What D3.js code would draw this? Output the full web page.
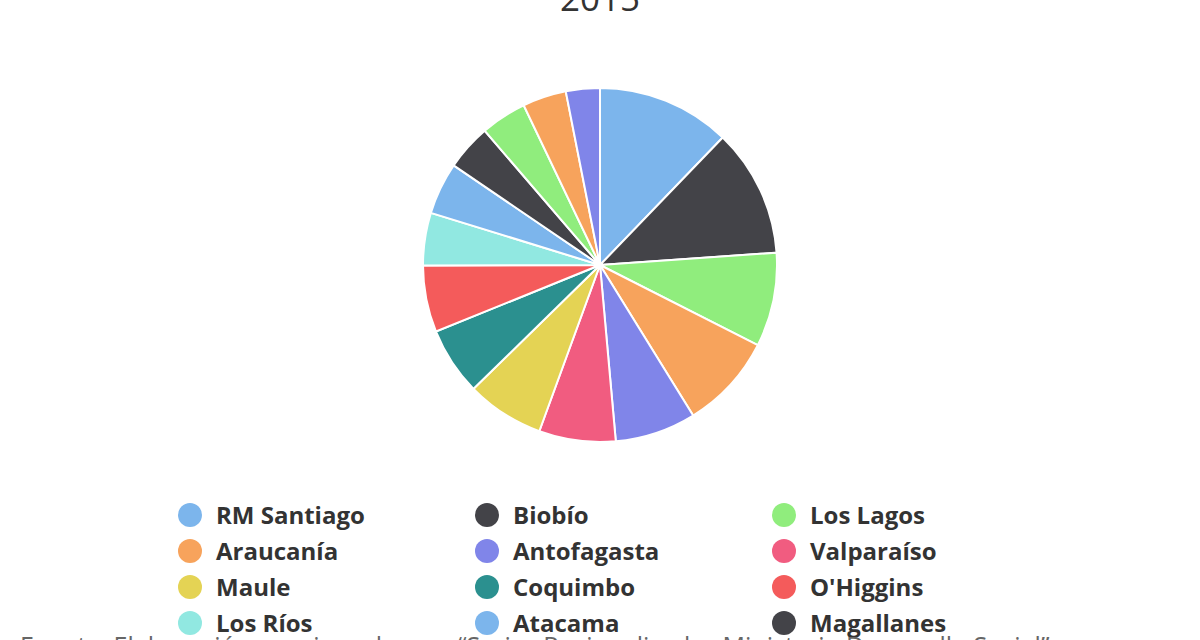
<!DOCTYPE html>
<html><head><meta charset="utf-8">
<script src="https://cdn.jsdelivr.net/npm/d3@7"></script>
<style>body{margin:0;background:#fff;overflow:hidden}</style>
</head><body>
<script>
// regions and their share
var regions = ["RM Santiago","Biobío","Los Lagos","Araucanía","Antofagasta","Valparaíso","Maule","Coquimbo","O'Higgins","Los Ríos","Atacama","Magallanes","Tarapacá","Aysén","Arica y Parinacota"];
var values = [12.2, 11.7, 8.6, 8.7, 7.4, 7.0, 7.1, 6.2, 6.1, 4.8, 4.75, 4.2, 4.2, 4.0, 3.1];
var colors = ["#7cb5ec","#434348","#90ed7d","#f7a35c","#8085e9","#f15c80","#e4d354","#2b908f","#f45b5b","#91e8e1","#7cb5ec","#434348","#90ed7d","#f7a35c","#8085e9"];
var legendCount = 12;

var width = 1200, height = 640;
var svg = d3.select("body").append("svg").attr("width", width).attr("height", height);

// title, cut at the top
svg.append("text").attr("x", 600).attr("y", 11).attr("text-anchor", "middle")
  .style("font-family", "Open Sans").style("font-size", "35px").style("fill", "#333").text("2015");

var data = regions.map(function(r, i) { return {name: r, value: values[i], color: colors[i]}; });
var pie = d3.pie().sort(null).value(function(d) { return d.value; });
var arc = d3.arc().innerRadius(0).outerRadius(177);

svg.append("g").attr("transform", "translate(600,265)")
  .selectAll("path").data(pie(data)).enter().append("path")
  .attr("d", arc).attr("fill", function(d) { return d.data.color; })
  .attr("stroke", "#fff").attr("stroke-width", 2);

// legend, 3 columns
var colX = d3.scaleOrdinal().domain([0,1,2]).range([190, 487, 784]);
var rowY = d3.scaleLinear().domain([0, 1]).range([515, 551]);
var items = svg.append("g").selectAll("g").data(data.slice(0, legendCount)).enter().append("g")
  .attr("transform", function(d, i) { return "translate(" + colX(i % 3) + "," + rowY(Math.floor(i / 3)) + ")"; });
items.append("circle").attr("r", 12).attr("fill", function(d) { return d.color; });
items.append("text").attr("x", 26).attr("y", 9)
  .style("font-family", "Open Sans").style("font-weight", "bold").style("font-size", "24px")
  .style("fill", "#333").text(function(d) { return d.name; });

// source note, cut at the bottom
svg.append("text").attr("x", 20).attr("y", 655)
  .style("font-family", "Open Sans").style("font-size", "25px").style("fill", "#666")
  .text("Fuente: Elaboración propia en base a “Series Regionalizadas Ministerio Desarrollo Social”");
</script>
</body></html>
